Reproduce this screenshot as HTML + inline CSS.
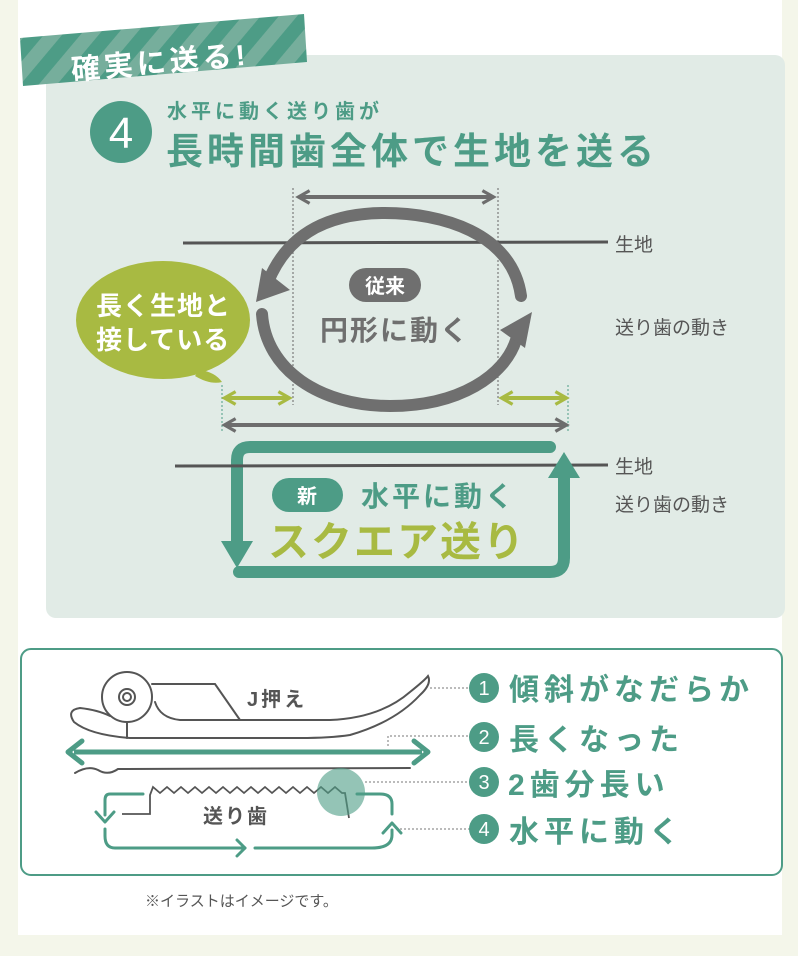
<!DOCTYPE html>
<html><head><meta charset="utf-8"><style>
html,body{margin:0;padding:0;background:#f4f6ea;}
svg{display:block;}
text{font-family:"Liberation Sans","Noto Sans CJK JP",sans-serif;}
</style></head><body>
<svg width="798" height="956" viewBox="0 0 798 956" xmlns="http://www.w3.org/2000/svg">
<defs>
<pattern id="st" patternUnits="userSpaceOnUse" width="28" height="28" patternTransform="rotate(40)">
<rect width="28" height="28" fill="#4d9c86"/><rect width="14" height="28" fill="#76ae9c"/>
</pattern>
<marker id="ga" viewBox="0 0 10 10" refX="7" refY="5" markerWidth="4" markerHeight="4" orient="auto-start-reverse"><path d="M1,1 L8,5 L1,9" fill="none" stroke="#6d6d6d" stroke-width="2"/></marker>
<marker id="oa" viewBox="0 0 10 10" refX="7" refY="5" markerWidth="4" markerHeight="4" orient="auto-start-reverse"><path d="M1,1 L8,5 L1,9" fill="none" stroke="#a8ba42" stroke-width="2"/></marker>
</defs>
<rect x="18" y="0" width="764" height="935" fill="#fff"/>
<rect x="46" y="55" width="739" height="563" rx="10" fill="#e1ebe6"/>
<polygon points="20,38 304,14 307,62 23,86" fill="url(#st)"/>
<text x="72" y="80" transform="rotate(-5 72 80)" font-size="29" font-weight="bold" fill="#fff" letter-spacing="4">確実に送る!</text>
<circle cx="121" cy="132" r="31" fill="#4d9c86"/>
<text x="121" y="148" font-size="44" fill="#fff" text-anchor="middle">4</text>
<text x="167" y="118" font-size="20" font-weight="bold" fill="#4d9c86" letter-spacing="4">水平に動く送り歯が</text>
<text x="166" y="164" font-size="37" font-weight="bold" fill="#4d9c86" letter-spacing="4">長時間歯全体で生地を送る</text>
<g stroke="#666" stroke-width="1" stroke-dasharray="2,2">
<line x1="293" y1="188" x2="293" y2="405"/><line x1="498" y1="188" x2="498" y2="405"/>
</g>
<g stroke="#4d9c86" stroke-width="1" stroke-dasharray="2,2">
<line x1="222" y1="385" x2="222" y2="432"/><line x1="568" y1="385" x2="568" y2="432"/>
</g>
<line x1="300" y1="197" x2="492" y2="197" stroke="#6d6d6d" stroke-width="4" marker-start="url(#ga)" marker-end="url(#ga)"/>
<path d="M183,243 L608,242" stroke="#555" stroke-width="3"/>
<text x="615" y="251" font-size="19" fill="#555">生地</text>
<text x="615" y="334" font-size="19" fill="#555">送り歯の動き</text>
<path d="M521,296 C512,232 440,213 385,213 C320,213 285,240 268,282" fill="none" stroke="#6f6f6f" stroke-width="12" stroke-linecap="round"/>
<polygon points="256,302 262,268 290,290" fill="#6f6f6f"/>
<path d="M262,314 C266,370 320,406 390,406 C460,406 505,375 516,340" fill="none" stroke="#6f6f6f" stroke-width="12" stroke-linecap="round"/>
<polygon points="532,312 500,330 525,348" fill="#6f6f6f"/>
<rect x="349" y="268" width="72" height="34" rx="17" fill="#6f6f6f"/>
<text x="385" y="293" font-size="20" font-weight="bold" fill="#fff" text-anchor="middle">従来</text>
<text x="320" y="340" font-size="28" font-weight="bold" fill="#6f6f6f" letter-spacing="2">円形に動く</text>
<path d="M200,370 Q215,372 222,382 Q210,385 195,376 Z" fill="#a8ba42"/>
<ellipse cx="163" cy="320" rx="87" ry="59" fill="#a8ba42"/>
<text x="96" y="315" font-size="26" font-weight="bold" fill="#fff" letter-spacing="1">長く生地と</text>
<text x="96" y="349" font-size="26" font-weight="bold" fill="#fff" letter-spacing="1">接している</text>
<line x1="226" y1="398" x2="288" y2="398" stroke="#a8ba42" stroke-width="4" marker-start="url(#oa)" marker-end="url(#oa)"/>
<line x1="503" y1="398" x2="565" y2="398" stroke="#a8ba42" stroke-width="4" marker-start="url(#oa)" marker-end="url(#oa)"/>
<line x1="226" y1="425" x2="565" y2="425" stroke="#6d6d6d" stroke-width="4" marker-start="url(#ga)" marker-end="url(#ga)"/>
<path d="M550,447 L250,447 Q237,447 237,460 L237,545" fill="none" stroke="#4d9c86" stroke-width="12" stroke-linecap="round"/>
<polygon points="221,541 253,541 237,568" fill="#4d9c86"/>
<path d="M175,466 L608,465" stroke="#555" stroke-width="3"/>
<path d="M239,572 L550,572 Q564,572 564,558 L564,478" fill="none" stroke="#4d9c86" stroke-width="12" stroke-linecap="round"/>
<polygon points="548,478 580,478 564,452" fill="#4d9c86"/>
<text x="615" y="473" font-size="19" fill="#555">生地</text>
<text x="615" y="511" font-size="19" fill="#555">送り歯の動き</text>
<rect x="272" y="478" width="71" height="34" rx="17" fill="#4d9c86"/>
<text x="307" y="503" font-size="20" font-weight="bold" fill="#fff" text-anchor="middle">新</text>
<text x="361" y="506" font-size="28" font-weight="bold" fill="#4d9c86" letter-spacing="3">水平に動く</text>
<text x="268" y="556" font-size="41" font-weight="bold" fill="#a8ba42" letter-spacing="2">スクエア送り</text>
<rect x="21" y="649" width="761" height="226" rx="10" fill="#fff" stroke="#4d9c86" stroke-width="2"/>
<g fill="none" stroke="#555" stroke-width="2" stroke-linecap="round">
<circle cx="127" cy="697" r="25"/><circle cx="127" cy="697" r="8"/><circle cx="127" cy="697" r="4"/>
<path d="M152,684 L215,684 L240,720"/>
<path d="M155,702 Q160,718 180,720 L330,720 Q380,718 410,692 Q425,680 428,676 Q432,684 420,695 Q395,722 350,735 Q330,738 300,738 L130,738 Q90,735 74,722 Q66,710 80,708 Q98,710 110,716"/>
<path d="M127,722 L127,738"/>
<path d="M75,773 Q88,765 98,770 Q108,776 118,769 L410,768"/>
</g>
<line x1="74" y1="752" x2="422" y2="752" stroke="#4d9c86" stroke-width="5"/>
<path d="M82,741 L68,752 L82,763 M414,741 L428,752 L414,763" fill="none" stroke="#4d9c86" stroke-width="5" stroke-linecap="round" stroke-linejoin="round"/>
<path d="M122,814 L150,814 L150,795 L153,787 L160,793 L167,787 L174,793 L181,787 L188,793 L195,787 L202,793 L209,787 L216,793 L223,787 L230,793 L237,787 L244,793 L251,787 L258,793 L265,787 L272,793 L279,787 L286,793 L293,787 L300,793 L307,787 L314,793 L321,787 L328,793 L335,787 L342,793 L345,793 L349,818" fill="none" stroke="#555" stroke-width="1.8"/>
<circle cx="341" cy="792" r="24" fill="#4d9c86" opacity="0.6"/>
<path d="M143,794 L110,794 Q105,794 105,800 L105,815 M105,829 L105,836 Q105,848 115,848 L245,848 M255,848 L372,848 Q392,848 392,835 L392,830 M392,814 L392,804 Q392,794 380,794 L357,794" fill="none" stroke="#4d9c86" stroke-width="3" stroke-linecap="round"/>
<path d="M96,812 L105,822 L114,812 M237,840 L245,848 L237,856 M383,833 L392,823 L401,833" fill="none" stroke="#4d9c86" stroke-width="3" stroke-linecap="round" stroke-linejoin="round"/>
<text x="203" y="823" font-size="20" font-weight="bold" fill="#555" letter-spacing="2">送り歯</text>
<text x="247" y="706" font-size="20" font-weight="bold" fill="#555" letter-spacing="3">J押え</text>
<g stroke="#777" stroke-width="1" stroke-dasharray="2,2">
<line x1="430" y1="688" x2="470" y2="688"/>
<path d="M388,746 L388,736 L470,736" fill="none"/>
<line x1="365" y1="782" x2="470" y2="782"/>
<line x1="400" y1="829" x2="470" y2="829"/>
</g>
<g fill="#4d9c86"><circle cx="484" cy="688" r="15"/><circle cx="484" cy="737" r="15"/><circle cx="484" cy="782" r="15"/><circle cx="484" cy="829" r="15"/></g>
<g font-size="20" fill="#fff" text-anchor="middle"><text x="484" y="695">1</text><text x="484" y="744">2</text><text x="484" y="789">3</text><text x="484" y="836">4</text></g>
<g font-size="30" font-weight="bold" fill="#4d9c86" letter-spacing="5">
<text x="509" y="700">傾斜がなだらか</text>
<text x="509" y="750">長くなった</text>
<text x="508" y="795">2歯分長い</text>
<text x="509" y="842">水平に動く</text>
</g>
<text x="145" y="906" font-size="15" fill="#555">※イラストはイメージです。</text>
</svg>
</body></html>
